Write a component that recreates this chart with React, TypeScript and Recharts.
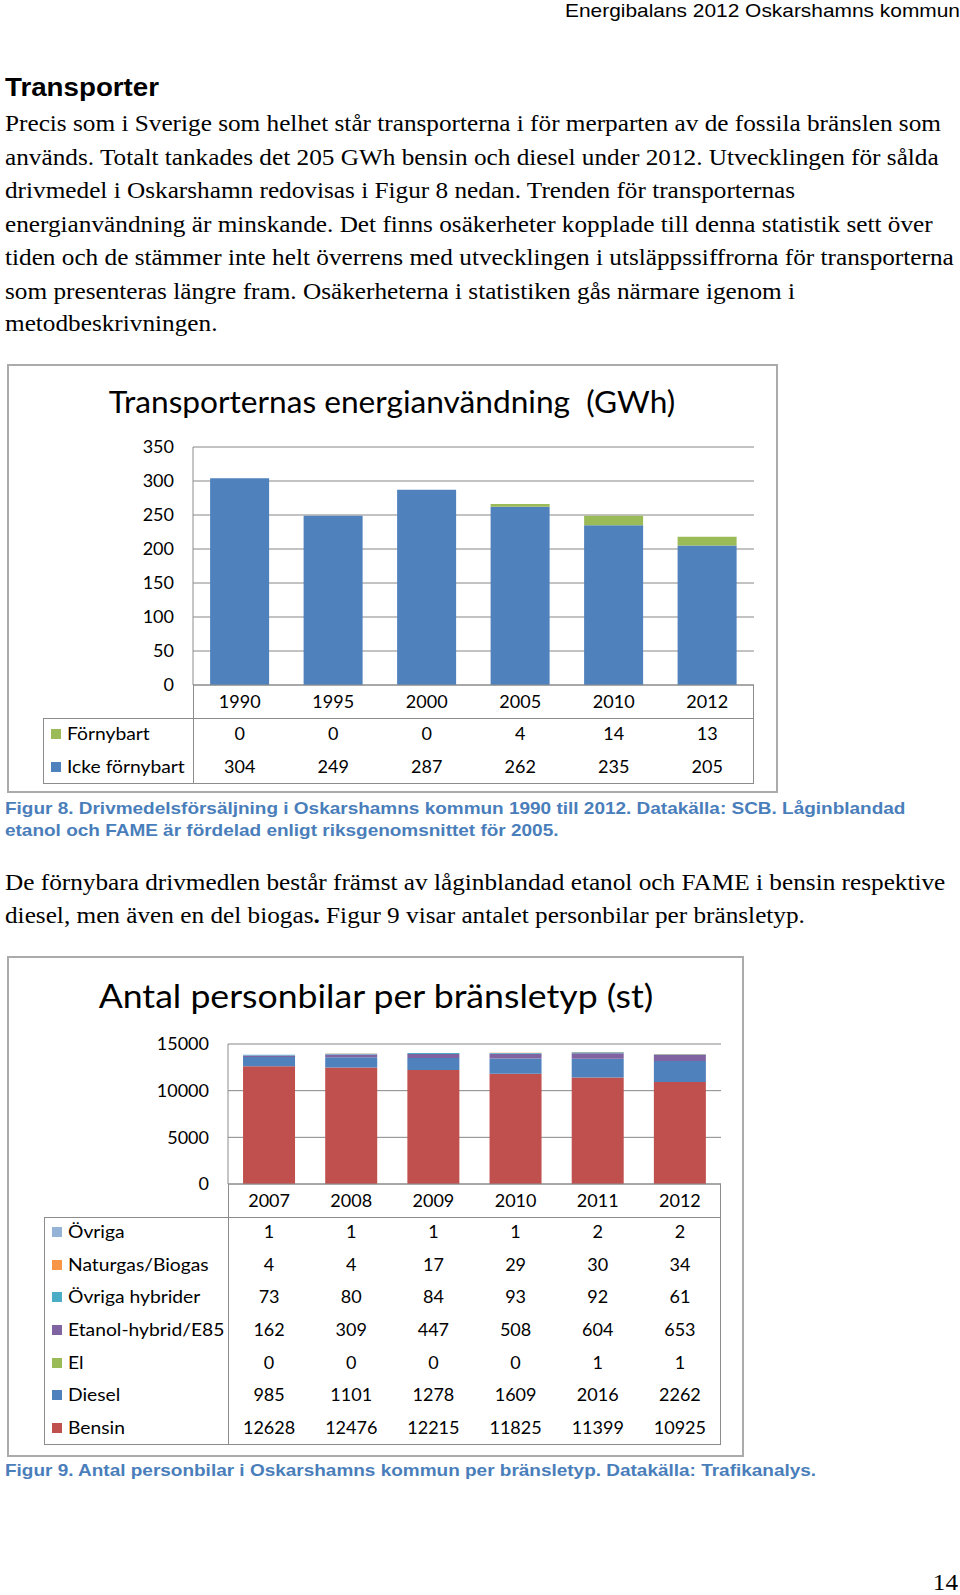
import React from 'react'
import { BarChart, Bar, XAxis, YAxis, CartesianGrid } from 'recharts'

// Figur 8 – transporternas energianvändning (GWh)
const years1 = ['1990', '1995', '2000', '2005', '2010', '2012']
const fornybart = [0, 0, 0, 4, 14, 13]
const ickeFornybart = [304, 249, 287, 262, 235, 205]
const ticks1 = [0, 50, 100, 150, 200, 250, 300, 350]

// Figur 9 – antal personbilar per bränsletyp (st)
const years2 = ['2007', '2008', '2009', '2010', '2011', '2012']
const ovriga = [1, 1, 1, 1, 2, 2]
const naturgas = [4, 4, 17, 29, 30, 34]
const ovrigaHybrider = [73, 80, 84, 93, 92, 61]
const etanol = [162, 309, 447, 508, 604, 653]
const el = [0, 0, 0, 0, 1, 1]
const diesel = [985, 1101, 1278, 1609, 2016, 2262]
const bensin = [12628, 12476, 12215, 11825, 11399, 10925]
const ticks2 = [0, 5000, 10000, 15000]

const bodyLines1 = [
  'Precis som i Sverige som helhet står transporterna i för merparten av de fossila bränslen som',
  'används. Totalt tankades det 205 GWh bensin och diesel under 2012. Utvecklingen för sålda',
  'drivmedel i Oskarshamn redovisas i Figur 8 nedan. Trenden för transporternas',
  'energianvändning är minskande. Det finns osäkerheter kopplade till denna statistik sett över',
  'tiden och de stämmer inte helt överrens med utvecklingen i utsläppssiffrorna för transporterna',
  'som presenteras längre fram. Osäkerheterna i statistiken gås närmare igenom i',
  'metodbeskrivningen.',
]
const bodyTops1 = [124, 158, 191, 225, 258, 292, 324]

const BLUE = '#4F81BD'
const RED = '#C0504D'
const GREEN = '#9BBB59'
const PURPLE = '#8064A2'
const AQUA = '#4BACC6'
const ORANGE = '#F79646'
const LIGHTBLUE = '#95B3D7'
const GRID = '#868686'
const LINE = '#8C8C8C'
const CHART_FONT = 'Lato, "Open Sans", sans-serif'
const SERIF = '"Liberation Serif", "Times New Roman", serif'
const SANS = '"Liberation Sans", Arial, sans-serif'
const CAPTION = '#4A7EBB'

interface Series {
  key: string
  label: string
  color: string
  values: number[]
}

interface ChartSpec {
  frame: { x: number; y: number; w: number; h: number }
  title: string
  titleX: number
  titleY: number
  titleSize: number
  titleStretch: number
  plotLeft: number
  plotRight: number
  plotTop: number
  plotBottom: number
  yearRowBottom: number
  tableBottom: number
  tableLeft: number
  domainMax: number
  ticks: number[]
  years: string[]
  stack: Series[] // bottom to top
  tableRows: Series[] // top to bottom
  fontSize: number
}

const chart1: ChartSpec = {
  frame: { x: 7, y: 364, w: 771, h: 429 },
  title: 'Transporternas energianvändning  (GWh)',
  titleX: 392,
  titleY: 401,
  titleSize: 30,
  titleStretch: 1.055,
  plotLeft: 193,
  plotRight: 754,
  plotTop: 447,
  plotBottom: 685,
  yearRowBottom: 718,
  tableBottom: 784,
  tableLeft: 43,
  domainMax: 350,
  ticks: ticks1,
  years: years1,
  stack: [
    { key: 'icke', label: 'Icke förnybart', color: BLUE, values: ickeFornybart },
    { key: 'forn', label: 'Förnybart', color: GREEN, values: fornybart },
  ],
  tableRows: [
    { key: 'forn', label: 'Förnybart', color: GREEN, values: fornybart },
    { key: 'icke', label: 'Icke förnybart', color: BLUE, values: ickeFornybart },
  ],
  fontSize: 18,
}

const series2: Series[] = [
  { key: 'bensin', label: 'Bensin', color: RED, values: bensin },
  { key: 'diesel', label: 'Diesel', color: BLUE, values: diesel },
  { key: 'el', label: 'El', color: GREEN, values: el },
  { key: 'etanol', label: 'Etanol-hybrid/E85', color: PURPLE, values: etanol },
  { key: 'hybrid', label: 'Övriga hybrider', color: AQUA, values: ovrigaHybrider },
  { key: 'gas', label: 'Naturgas/Biogas', color: ORANGE, values: naturgas },
  { key: 'ovriga', label: 'Övriga', color: LIGHTBLUE, values: ovriga },
]

const chart2: ChartSpec = {
  frame: { x: 7, y: 956, w: 737, h: 501 },
  title: 'Antal personbilar per bränsletyp (st)',
  titleX: 376,
  titleY: 995,
  titleSize: 33,
  titleStretch: 1.08,
  plotLeft: 228,
  plotRight: 721,
  plotTop: 1044,
  plotBottom: 1184,
  yearRowBottom: 1217,
  tableBottom: 1445,
  tableLeft: 44,
  domainMax: 15000,
  ticks: ticks2,
  years: years2,
  stack: series2,
  tableRows: [...series2].reverse(),
  fontSize: 18,
}

function abs(x: number, y: number, extra: React.CSSProperties = {}): React.CSSProperties {
  return { position: 'absolute', left: x, top: y, ...extra }
}

function TextLine({ x, y, stretch = 1, children, style }: { x: number; y: number; stretch?: number; children: React.ReactNode; style?: React.CSSProperties }) {
  // y is the vertical centre of the line; the scanned page is a bit wider than the fonts
  return (
    <div
      style={{
        position: 'absolute',
        left: x,
        top: y - 15,
        height: 30,
        lineHeight: '30px',
        whiteSpace: 'nowrap',
        transform: `scaleX(${stretch})`,
        transformOrigin: 'left center',
        ...style,
      }}
    >
      {children}
    </div>
  )
}

function StackedTableChart({ spec }: { spec: ChartSpec }) {
  const yAxisW = 100
  const pad = 20
  const left = spec.plotLeft - yAxisW
  const top = spec.plotTop - pad
  const width = spec.plotRight + pad - left
  const height = spec.yearRowBottom + pad - top
  const xAxisH = spec.yearRowBottom - spec.plotBottom
  const colW = (spec.plotRight - spec.plotLeft) / spec.years.length
  const rowH = (spec.tableBottom - spec.yearRowBottom) / spec.tableRows.length

  const data = spec.years.map((year, i) => {
    const row: any = { year }
    spec.stack.forEach(s => {
      row[s.key] = s.values[i]
    })
    return row
  })

  const renderYear = (props: any) => {
    const { x, y, payload } = props
    return (
      <text x={x} y={y + xAxisH / 2} dy="0.35em" textAnchor="middle" fill="#000" fontSize={spec.fontSize} fontFamily={CHART_FONT}>
        {payload.value}
      </text>
    )
  }

  return (
    <>
      <div
        style={abs(spec.frame.x, spec.frame.y, {
          width: spec.frame.w,
          height: spec.frame.h,
          border: '2px solid #ABABAB',
          boxSizing: 'border-box',
        })}
      />
      <div
        style={abs(0, spec.titleY - 25, {
          width: spec.titleX * 2,
          textAlign: 'center',
          height: 50,
          lineHeight: '50px',
          fontFamily: CHART_FONT,
          fontSize: spec.titleSize,
          whiteSpace: 'pre',
          transform: `scaleX(${spec.titleStretch})`,
          transformOrigin: 'center',
        })}
      >
        {spec.title}
      </div>
      <div style={abs(left, top, { width, height })}>
        <BarChart
          width={width}
          height={height}
          data={data}
          margin={{ top: pad, right: pad, bottom: pad, left: 0 }}
          barCategoryGap="18.3%"
        >
          <CartesianGrid vertical={false} stroke={GRID} />
          <XAxis
            dataKey="year"
            height={xAxisH}
            tickLine={false}
            tickSize={0}
            tickMargin={0}
            axisLine={{ stroke: LINE }}
            tick={renderYear}
            interval={0}
          />
          <YAxis
            width={yAxisW}
            domain={[0, spec.domainMax]}
            ticks={spec.ticks}
            interval={0}
            tickLine={false}
            tickSize={0}
            tickMargin={19}
            axisLine={{ stroke: LINE }}
            tick={{ fill: '#000', fontSize: spec.fontSize, fontFamily: CHART_FONT }}
          />
          {spec.stack.map(s => (
            <Bar key={s.key} dataKey={s.key} stackId="a" fill={s.color} isAnimationActive={false} />
          ))}
        </BarChart>
      </div>
      {/* data table below the axis */}
      <div
        style={abs(spec.plotLeft, spec.plotBottom, {
          width: spec.plotRight - spec.plotLeft,
          height: spec.tableBottom - spec.plotBottom,
          borderLeft: `1px solid ${LINE}`,
          borderRight: `1px solid ${LINE}`,
          boxSizing: 'border-box',
        })}
      />
      <div
        style={abs(spec.tableLeft, spec.yearRowBottom, {
          width: spec.plotRight - spec.tableLeft,
          height: spec.tableBottom - spec.yearRowBottom,
          border: `1px solid ${LINE}`,
          boxSizing: 'border-box',
        })}
      />
      {spec.tableRows.map((s, r) => {
        const cy = spec.yearRowBottom + (r + 0.5) * rowH - 2
        return (
          <React.Fragment key={s.key}>
            <div style={abs(spec.tableLeft + 8, cy - 4, { width: 10, height: 10, background: s.color })} />
            <div
              style={abs(spec.tableLeft + 24, cy - 14, {
                height: 28,
                lineHeight: '28px',
                fontFamily: CHART_FONT,
                fontSize: spec.fontSize,
                whiteSpace: 'nowrap',
                transform: 'scaleX(1.07)',
                transformOrigin: 'left center',
              })}
            >
              {s.label}
            </div>
            {s.values.map((v, i) => (
              <div
                key={i}
                style={abs(spec.plotLeft + i * colW, cy - 14, {
                  width: colW,
                  height: 28,
                  lineHeight: '28px',
                  textAlign: 'center',
                  fontFamily: CHART_FONT,
                  fontSize: spec.fontSize,
                })}
              >
                {v}
              </div>
            ))}
          </React.Fragment>
        )
      })}
    </>
  )
}

export default function App() {
  const body: React.CSSProperties = { fontFamily: SERIF, fontSize: 22.5, color: '#000' }
  const caption: React.CSSProperties = { fontFamily: SANS, fontSize: 17, fontWeight: 'bold', color: CAPTION }
  const bodyStretch = 1.122
  const capStretch = 1.116
  return (
    <div style={{ position: 'absolute', left: 0, top: 0, width: 960, height: 1595, background: '#fff', overflow: 'hidden' }}>
      <div
        style={abs(0, 0, {
          width: 960,
          textAlign: 'right',
          height: 22,
          lineHeight: '22px',
          fontFamily: SANS,
          fontSize: 19,
          whiteSpace: 'nowrap',
          transform: 'scaleX(1.1)',
          transformOrigin: 'right center',
        })}
      >
        Energibalans 2012 Oskarshamns kommun
      </div>
      <TextLine x={5} y={87} stretch={1.066} style={{ fontFamily: SANS, fontSize: 26, fontWeight: 'bold' }}>
        Transporter
      </TextLine>
      {bodyLines1.map((line, i) => (
        <TextLine key={i} x={5} y={bodyTops1[i]} stretch={bodyStretch} style={body}>
          {line}
        </TextLine>
      ))}

      <StackedTableChart spec={chart1} />

      <TextLine x={5} y={809} stretch={capStretch} style={caption}>
        Figur 8. Drivmedelsförsäljning i Oskarshamns kommun 1990 till 2012. Datakälla: SCB. Låginblandad
      </TextLine>
      <TextLine x={5} y={831} stretch={capStretch} style={caption}>
        etanol och FAME är fördelad enligt riksgenomsnittet för 2005.
      </TextLine>

      <TextLine x={5} y={883} stretch={bodyStretch} style={body}>
        De förnybara drivmedlen består främst av låginblandad etanol och FAME i bensin respektive
      </TextLine>
      <TextLine x={5} y={916} stretch={bodyStretch} style={body}>
        diesel, men även en del biogas<b>.</b> Figur 9 visar antalet personbilar per bränsletyp.
      </TextLine>

      <StackedTableChart spec={chart2} />

      <TextLine x={5} y={1471} stretch={capStretch} style={caption}>
        Figur 9. Antal personbilar i Oskarshamns kommun per bränsletyp. Datakälla: Trafikanalys.
      </TextLine>

      <div
        style={abs(0, 1583 - 15, {
          width: 958,
          textAlign: 'right',
          height: 30,
          lineHeight: '30px',
          fontFamily: SERIF,
          fontSize: 22.5,
          transform: 'scaleX(1.12)',
          transformOrigin: 'right center',
        })}
      >
        14
      </div>
    </div>
  )
}
